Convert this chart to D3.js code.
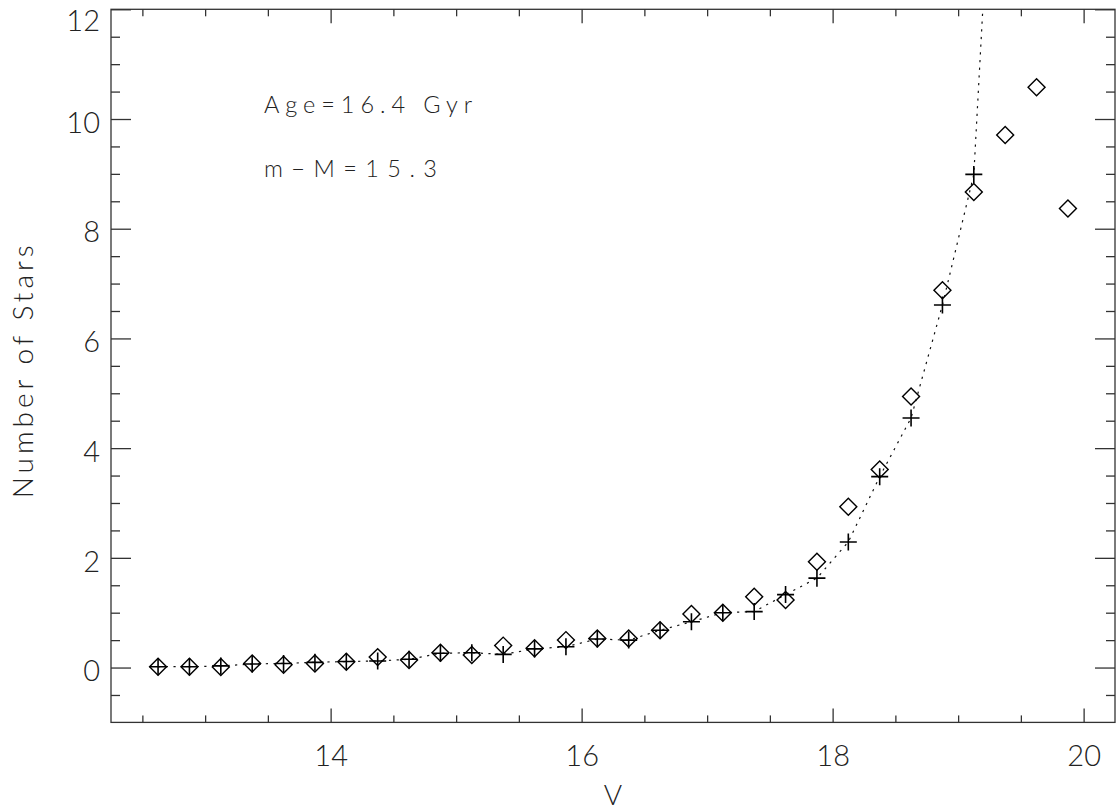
<!DOCTYPE html>
<html>
<head>
<meta charset="utf-8">
<script src="https://cdn.jsdelivr.net/npm/d3@7"></script>
<style>
  html, body { margin: 0; padding: 0; background: #fff; }
  svg { display: block; }
  text { font-family: "Lato", "DejaVu Sans", sans-serif; font-weight: 300; fill: #222; }
</style>
</head>
<body>
<svg id="chart" width="1119" height="812"></svg>
<script>
// ---- data ----
const magBins = [12.625, 12.875, 13.125, 13.375, 13.625, 13.875, 14.125, 14.375, 14.625, 14.875,
                 15.125, 15.375, 15.625, 15.875, 16.125, 16.375, 16.625, 16.875, 17.125, 17.375,
                 17.625, 17.875, 18.125, 18.375, 18.625, 18.875, 19.125, 19.375, 19.625, 19.875];
// observed counts (diamonds)
const observed = [0.015, 0.015, 0.01, 0.075, 0.05, 0.075, 0.105, 0.19, 0.137, 0.27,
                  0.23, 0.40, 0.35, 0.50, 0.53, 0.53, 0.68, 0.975, 1.0, 1.29,
                  1.23, 1.93, 2.93, 3.61, 4.94, 6.88, 8.67, 9.71, 10.58, 8.37];
// model counts (crosses), available up to V = 19.125
const model = [0.015, 0.015, 0.03, 0.065, 0.075, 0.095, 0.11, 0.12, 0.15, 0.26,
               0.27, 0.24, 0.34, 0.38, 0.52, 0.50, 0.68, 0.835, 1.0, 1.02,
               1.33, 1.63, 2.29, 3.48, 4.55, 6.61, 8.99];
// model curve continues off the top of the plot
const modelCurveExtra = [19.5];

const xMajorTicks = [14, 16, 18, 20];
const xMinorTicks = [12.5, 13, 13.5, 14.5, 15, 15.5, 16.5, 17, 17.5, 18.5, 19, 19.5];
const yMajorTicks = [0, 2, 4, 6, 8, 10, 12];
const yMinorTicks = [-0.5, 0.5, 1, 1.5, 2.5, 3, 3.5, 4.5, 5, 5.5, 6.5, 7, 7.5, 8.5, 9, 9.5, 10.5, 11, 11.5];
const xDomain = [12.25, 20.25];
const yDomain = [-1, 12];
const xLabel = "V";
const yLabel = "Number of Stars";
const notes = ["Age=16.4 Gyr", "m\u2212M=15.3"];

// ---- layout ----
const L = 111, R = 1115, T = 9.3, B = 722.4;
const svg = d3.select("#chart");
const x = d3.scaleLinear().domain(xDomain).range([L, R]);
const y = d3.scaleLinear().domain(yDomain).range([B, T]);

const axisColor = "#333";
function styleAxis(g) {
  g.select(".domain").remove();
  g.selectAll(".tick line").attr("stroke", axisColor).attr("stroke-width", 1.3);
  g.selectAll(".tick text").attr("fill", "#222").style("font-size", "29px");
}

// bottom axis
svg.append("g").attr("transform", `translate(0,${B})`)
  .call(d3.axisBottom(x).tickValues(xMajorTicks).tickSize(-14).tickPadding(23).tickFormat(d3.format("d")))
  .call(styleAxis);
svg.append("g").attr("transform", `translate(0,${B})`)
  .call(d3.axisBottom(x).tickValues(xMinorTicks).tickSize(-7).tickFormat(""))
  .call(styleAxis);
// top axis
svg.append("g").attr("transform", `translate(0,${T})`)
  .call(d3.axisTop(x).tickValues(xMajorTicks).tickSize(-14).tickFormat(""))
  .call(styleAxis);
svg.append("g").attr("transform", `translate(0,${T})`)
  .call(d3.axisTop(x).tickValues(xMinorTicks).tickSize(-7).tickFormat(""))
  .call(styleAxis);
// left axis
const leftG = svg.append("g").attr("transform", `translate(${L},0)`)
  .call(d3.axisLeft(y).tickValues(yMajorTicks).tickSize(-20).tickPadding(11).tickFormat(d3.format("d")))
  .call(styleAxis);
// labels sit slightly below their ticks; the top label is kept inside the picture
leftG.selectAll(".tick text")
  .attr("dy", d => d === yDomain[1] ? "0.72em" : "0.32em")
  .attr("y", d => d === yDomain[1] ? 0 : 4);
svg.append("g").attr("transform", `translate(${L},0)`)
  .call(d3.axisLeft(y).tickValues(yMinorTicks).tickSize(-9).tickFormat(""))
  .call(styleAxis);
// right axis
svg.append("g").attr("transform", `translate(${R},0)`)
  .call(d3.axisRight(y).tickValues(yMajorTicks).tickSize(-20).tickFormat(""))
  .call(styleAxis);
svg.append("g").attr("transform", `translate(${R},0)`)
  .call(d3.axisRight(y).tickValues(yMinorTicks).tickSize(-9).tickFormat(""))
  .call(styleAxis);

// frame
svg.append("rect").attr("x", L).attr("y", T).attr("width", R - L).attr("height", B - T)
  .attr("fill", "none").attr("stroke", axisColor).attr("stroke-width", 1.3);

// clip
svg.append("clipPath").attr("id", "plotclip")
  .append("rect").attr("x", L).attr("y", T).attr("width", R - L).attr("height", B - T);

// model curve (dotted)
const curvePts = model.map((v, i) => [magBins[i], v])
  .concat(modelCurveExtra.map((v, j) => [magBins[model.length + j], v]));
svg.append("path")
  .attr("clip-path", "url(#plotclip)")
  .attr("d", d3.line().x(d => x(d[0])).y(d => y(d[1]))(curvePts))
  .attr("fill", "none").attr("stroke", "#111").attr("stroke-width", 1.2)
  .attr("stroke-dasharray", "2.2,5.5");

// diamonds (observed)
const diamond = d3.symbol().type(d3.symbolSquare).size(144);
svg.append("g").selectAll("path").data(observed.map((v, i) => [magBins[i], v])).join("path")
  .attr("transform", d => `translate(${x(d[0])},${y(d[1])}) rotate(45)`)
  .attr("d", diamond())
  .attr("fill", "none").attr("stroke", "#000").attr("stroke-width", 1.4);

// crosses (model)
const cs = 8.5;
svg.append("g").selectAll("path").data(model.map((v, i) => [magBins[i], v])).join("path")
  .attr("transform", d => `translate(${x(d[0])},${y(d[1])})`)
  .attr("d", `M${-cs},0H${cs}M0,${-cs}V${cs}`)
  .attr("fill", "none").attr("stroke", "#000").attr("stroke-width", 1.6);

// annotations
svg.append("text").attr("x", 264).attr("y", 113).style("font-size", "23.5px")
  .attr("textLength", 208).attr("lengthAdjust", "spacing").text(notes[0]);
svg.append("text").attr("x", 264).attr("y", 176.5).style("font-size", "23.5px")
  .attr("textLength", 173).attr("lengthAdjust", "spacing").text(notes[1]);

// axis titles
svg.append("text").attr("x", (L + R) / 2).attr("y", 805).attr("text-anchor", "middle")
  .style("font-size", "28px").text(xLabel);
svg.append("text").attr("transform", `translate(33,${(T + B) / 2 + 6}) rotate(-90)`)
  .attr("text-anchor", "middle").style("font-size", "28px")
  .attr("textLength", 253).attr("lengthAdjust", "spacing").text(yLabel);
</script>
</body>
</html>
